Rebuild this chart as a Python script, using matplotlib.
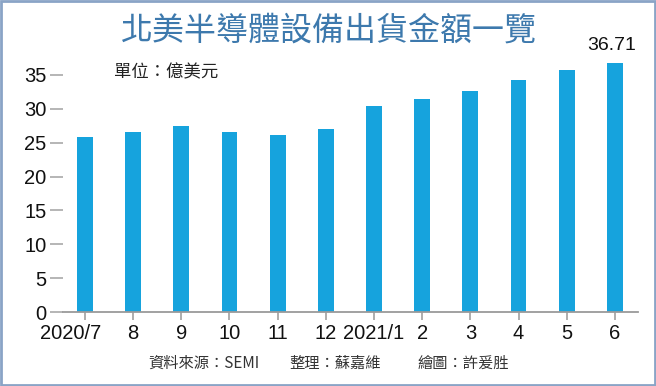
import matplotlib
matplotlib.use("Agg")
import matplotlib.pyplot as plt
import matplotlib.transforms as mtransforms
from matplotlib.patches import Rectangle

months = ["2020/7", "8", "9", "10", "11", "12", "2021/1", "2", "3", "4", "5", "6"]
values = [25.8, 26.6, 27.5, 26.6, 26.2, 27.0, 30.4, 31.4, 32.7, 34.3, 35.8, 36.71]
yticks = [0, 5, 10, 15, 20, 25, 30, 35]
title = "北美半導體設備出貨金額一覽"
unit_text = "單位：億美元"
footer_parts = ["資料來源：SEMI", "整理：蘇嘉維", "繪圖：許爰胜"]
last_label = "36.71"

plt.rcParams['font.family'] = ['Liberation Sans', 'Noto Sans CJK TC', 'DejaVu Sans']
CJK = ['Noto Sans CJK TC', 'DejaVu Sans']

W, H = 656, 386
fig = plt.figure(figsize=(W / 100, H / 100), dpi=100)
fig.patch.set_facecolor('white')

ax_left, ax_right, ax_bottom = 63, 638, 312
ymax = 37.0
px_per_unit = (312 - 75) / 35.0
ax_top = ax_bottom - ymax * px_per_unit
ax = fig.add_axes([ax_left / W, 1 - ax_bottom / H, (ax_right - ax_left) / W, (ax_bottom - ax_top) / H])

x = list(range(len(months)))
ax.bar(x, values, width=0.33, color='#16a3dd', zorder=2)
ax.set_xlim(-0.456, 11.48)
ax.set_ylim(0, ymax)

for s in ['top', 'right', 'left']:
    ax.spines[s].set_visible(False)
ax.spines['bottom'].set_color('#9a9a9a')
ax.spines['bottom'].set_linewidth(1.3)

ax.set_yticks(yticks)
ax.set_yticklabels([str(v) for v in yticks])
ax.set_xticks(x)
ax.set_xticklabels(months)
ax.tick_params(axis='y', length=9.4, width=1.3, color='#b0b0b0', pad=2.5, labelsize=14.5, labelcolor='#111111')
ax.tick_params(axis='x', length=5.8, width=1.2, color='#a0a0a0', pad=2.5, labelsize=14.5, labelcolor='#111111')

first = ax.get_xticklabels()[0]
first.set_transform(first.get_transform() + mtransforms.ScaledTranslation(-14 / 100, 0, fig.dpi_scale_trans))

ax.annotate(last_label, xy=(x[-1], values[-1]), xytext=(-2, 7), textcoords='offset points',
            ha='center', va='bottom', fontsize=14, color='#111111')

fig.text(329 / W, 1 - 31 / H, title, ha='center', va='center', fontsize=23, fontweight='medium',
         color='#3d79ad', family=CJK)
fig.text(114 / W, 1 - 72 / H, unit_text, ha='left', va='center', fontsize=12.5, color='#222222', family=CJK)

footer_x = [148, 289, 417]
for fx, txt in zip(footer_x, footer_parts):
    fig.text(fx / W, 1 - 363 / H, txt, ha='left', va='center', fontsize=11, color='#333333', family=CJK)

fig.patches.append(Rectangle((0.0015, 0.0025), 0.997, 0.995, transform=fig.transFigure,
                             fill=False, edgecolor='#8aa4c6', linewidth=2))

fig.savefig('out.png', dpi=100, facecolor='white')
